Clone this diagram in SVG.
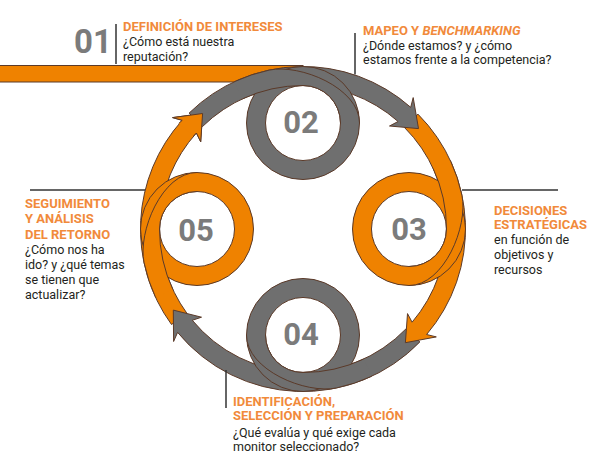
<svg xmlns="http://www.w3.org/2000/svg" width="600" height="458" viewBox="0 0 600 458">
<style>
.or{fill:#EF8200;stroke:#5b3a29;stroke-width:1;stroke-linejoin:miter}
.gr{fill:#6f6f6f;stroke:#5b3a29;stroke-width:1;stroke-linejoin:miter}
.ring{fill-rule:evenodd}
.ln{fill:none;stroke:#5b3a29;stroke-width:1}
.num{font-family:Roboto,"Liberation Sans",sans-serif;font-weight:bold;fill:#7b7b7b;text-anchor:middle}
.hd{font-family:Roboto,"Liberation Sans",sans-serif;font-weight:bold;font-size:13px;fill:#F18A3B}
.bd{font-family:Roboto,"Liberation Sans",sans-serif;font-size:12.5px;fill:#231f20}
.rule{stroke:#333;stroke-width:1.5;fill:none}
</style>
<defs>
<path id="inFill" d="M234.3,81.7 A162.5,162.5 0 0 1 269.2,70.1 C300,63.5 359.5,88 359.5,123 L340.5,123 A37.5,37.5 0 0 0 303,85.5 A143.5,143.5 0 0 0 242.4,98.9 Z"/>
<path id="inOut" d="M234.3,81.7 A162.5,162.5 0 0 1 269.2,70.1 C300,63.5 359.5,88 359.5,123"/>
<path id="inIn" d="M340.5,123 A37.5,37.5 0 0 0 303,85.5 A143.5,143.5 0 0 0 242.4,98.9"/>
<path id="ringP" d="M359.5,123 A56.5,56.5 0 1 0 246.5,123 A56.5,56.5 0 1 0 359.5,123 Z M340.5,123 A37.5,37.5 0 1 0 265.5,123 A37.5,37.5 0 1 0 340.5,123 Z"/>
</defs>
<rect width="600" height="458" fill="#fff"/>
<g id="connectors">
<rect x="-2" y="65.5" width="305" height="16.5" class="or"/>
<g id="seg-d">
<path class="or" d="M171.5,324.5 A162.5,162.5 0 0 1 182.2,120.3 L172.6,117.6 L202.6,113.5 L200.7,141.7 L196.4,133 A143.5,143.5 0 0 0 186.9,313.3 Z"/>
<g transform="rotate(-90 303 229)">
<use href="#ringP" class="or ring"/>
<use href="#inFill" fill="#EF8200"/>
<use href="#inOut" class="ln"/>
<use href="#inIn" class="ln"/>
</g>
</g>
<g id="seg-c">
<path class="gr" d="M419.9,341.9 A162.5,162.5 0 0 1 177.6,332.4 L173.6,341.5 L173.3,310.1 L201.5,317.2 L192.3,320.3 A143.5,143.5 0 0 0 406.2,328.7 Z"/>
<g transform="rotate(180 303 229)">
<use href="#ringP" class="gr ring"/>
<use href="#inFill" fill="#6f6f6f"/>
<use href="#inOut" class="ln"/>
<use href="#inIn" class="ln"/>
</g>
</g>
<g id="seg-b">
<path class="or" d="M417.9,114.1 A162.5,162.5 0 0 1 426.6,334.5 L436.3,336.9 L405.4,342.7 L407.5,313.6 L412.1,322.2 A143.5,143.5 0 0 0 404.5,127.5 Z"/>
<g transform="rotate(90 303 229)">
<use href="#ringP" class="or ring"/>
<use href="#inFill" fill="#EF8200"/>
<use href="#inOut" class="ln"/>
<use href="#inIn" class="ln"/>
</g>
</g>
<g id="seg-a">
<path class="gr" d="M189.1,113.1 A162.5,162.5 0 0 1 410.7,107.3 L413.2,97.6 L418.5,128.6 L389.5,126 L398.1,121.5 A143.5,143.5 0 0 0 202.4,126.6 Z"/>
<use href="#ringP" class="gr ring"/>
<use href="#inFill" fill="#6f6f6f"/>
<use href="#inOut" class="ln"/>
<use href="#inIn" class="ln"/>
</g>
<g id="seg-d-head">
<path fill="#EF8200" d="M178.7,123.5 L182.2,120.3 L172.6,117.6 L202.6,113.5 L200.7,141.7 L196.4,133 L193.6,135.8 Z"/>
<path class="ln" d="M178.7,123.5 L182.2,120.3 L172.6,117.6 L202.6,113.5 L200.7,141.7 L196.4,133 L193.6,135.8"/>
</g>
</g>
<g id="n01">
<text class="num" x="93" y="53" font-size="33">01</text>
<line class="rule" x1="116" y1="24" x2="116" y2="64"/>
<text class="hd" x="123" y="31">DEFINICIÓN DE INTERESES</text>
<text class="bd" x="123" y="46">¿Cómo está nuestra</text>
<text class="bd" x="123" y="60.5">reputación?</text>
</g>
<g id="n02">
<text class="num" x="301" y="133" font-size="31">02</text>
<line class="rule" x1="355" y1="33" x2="355" y2="74.5"/>
<text class="hd" x="363" y="35">MAPEO Y <tspan font-style="italic">BENCHMARKING</tspan></text>
<text class="bd" x="363" y="49.5">¿Dónde estamos? y ¿cómo</text>
<text class="bd" x="363" y="64">estamos frente a la competencia?</text>
</g>
<g id="n03">
<text class="num" x="409" y="240" font-size="31">03</text>
<line class="rule" x1="462" y1="190" x2="558" y2="190"/>
<text class="hd" x="494" y="214.5">DECISIONES</text>
<text class="hd" x="494" y="229">ESTRATÉGICAS</text>
<text class="bd" x="494" y="244">en función de</text>
<text class="bd" x="494" y="259">objetivos y</text>
<text class="bd" x="494" y="274">recursos</text>
</g>
<g id="n04">
<text class="num" x="301" y="345" font-size="31">04</text>
<line class="rule" x1="226" y1="370" x2="226" y2="408"/>
<text class="hd" x="233" y="405.5">IDENTIFICACIÓN,</text>
<text class="hd" x="233" y="420">SELECCIÓN Y PREPARACIÓN</text>
<text class="bd" x="233" y="436.5">¿Qué evalúa y qué exige cada</text>
<text class="bd" x="233" y="450.5">monitor seleccionado?</text>
</g>
<g id="n05">
<text class="num" x="196" y="241" font-size="31">05</text>
<line class="rule" x1="30" y1="190" x2="145" y2="190"/>
<text class="hd" x="25" y="208">SEGUIMIENTO</text>
<text class="hd" x="25" y="223">Y ANÁLISIS</text>
<text class="hd" x="25" y="238.5">DEL RETORNO</text>
<text class="bd" x="25" y="254">¿Cómo nos ha</text>
<text class="bd" x="25" y="268.5">ido? y ¿qué temas</text>
<text class="bd" x="25" y="284">se tienen que</text>
<text class="bd" x="25" y="299">actualizar?</text>
</g>
</svg>
